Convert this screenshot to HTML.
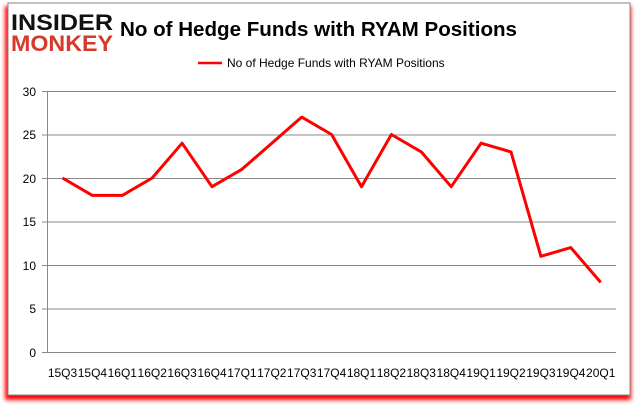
<!DOCTYPE html>
<html><head><meta charset="utf-8"><style>
body{margin:0;background:#fff;width:637px;height:408px;overflow:hidden;font-family:"Liberation Sans",sans-serif}
</style></head><body>
<svg width="637" height="408" xmlns="http://www.w3.org/2000/svg" style="position:absolute;left:0;top:0">
<defs><filter id="sh" x="-5%" y="-5%" width="110%" height="115%"><feGaussianBlur stdDeviation="2"/></filter></defs>
<rect x="5" y="6" width="626" height="394" fill="#f00" filter="url(#sh)"/>
<rect x="8" y="3" width="622" height="392" fill="#fff" stroke="#888" stroke-width="1"/>
<text x="11" y="30" font-family="Liberation Sans" font-weight="900" font-size="22" fill="#111" textLength="102" lengthAdjust="spacingAndGlyphs">INSIDER</text>
<text x="11" y="51" font-family="Liberation Sans" font-weight="900" font-size="22" fill="#d63a2a" textLength="102" lengthAdjust="spacingAndGlyphs">MONKEY</text>
<text x="120" y="36" font-family="Liberation Sans" font-weight="bold" font-size="20" fill="#000" textLength="397" lengthAdjust="spacingAndGlyphs">No of Hedge Funds with RYAM Positions</text>
<line x1="198" y1="63" x2="222" y2="63" stroke="#f00" stroke-width="2.5"/>
<text x="227" y="67" font-size="12" fill="#000">No of Hedge Funds with RYAM Positions</text>
<g stroke="#888" stroke-width="1">
<line x1="42" y1="91.5" x2="616" y2="91.5"/><line x1="42" y1="135" x2="616" y2="135"/>
<line x1="42" y1="178.5" x2="616" y2="178.5"/><line x1="42" y1="222" x2="616" y2="222"/>
<line x1="42" y1="265.5" x2="616" y2="265.5"/><line x1="42" y1="309" x2="616" y2="309"/>
<line x1="42" y1="352.5" x2="616" y2="352.5"/><line x1="47.5" y1="91" x2="47.5" y2="352"/>
</g>
<g font-size="12" fill="#000" text-anchor="end">
<text x="36" y="96">30</text><text x="36" y="139">25</text><text x="36" y="183">20</text>
<text x="36" y="226">15</text><text x="36" y="270">10</text><text x="36" y="313">5</text><text x="36" y="357">0</text>
</g>
<polyline fill="none" stroke="#f00" stroke-width="3" stroke-linejoin="round"
points="62.5,178 92.4,195.4 122.3,195.4 152.2,178 182.1,143.2 212,186.7 241.9,169.3 271.8,143.2 301.7,117.1 331.6,134.5 361.5,186.7 391.4,134.5 421.3,151.9 451.2,186.7 481.1,143.2 511,151.9 540.9,256.3 570.8,247.6 600.7,282.4"/>
<g font-size="12" fill="#000" text-anchor="middle">
<text x="62.5" y="377">15Q3</text><text x="92.4" y="377">15Q4</text><text x="122.3" y="377">16Q1</text><text x="152.2" y="377">16Q2</text><text x="182.1" y="377">16Q3</text><text x="212" y="377">16Q4</text><text x="241.9" y="377">17Q1</text><text x="271.8" y="377">17Q2</text><text x="301.7" y="377">17Q3</text><text x="331.6" y="377">17Q4</text><text x="361.5" y="377">18Q1</text><text x="391.4" y="377">18Q2</text><text x="421.3" y="377">18Q3</text><text x="451.2" y="377">18Q4</text><text x="481.1" y="377">19Q1</text><text x="511" y="377">19Q2</text><text x="540.9" y="377">19Q3</text><text x="570.8" y="377">19Q4</text><text x="600.7" y="377">20Q1</text>
</g>
</svg>
</body></html>
